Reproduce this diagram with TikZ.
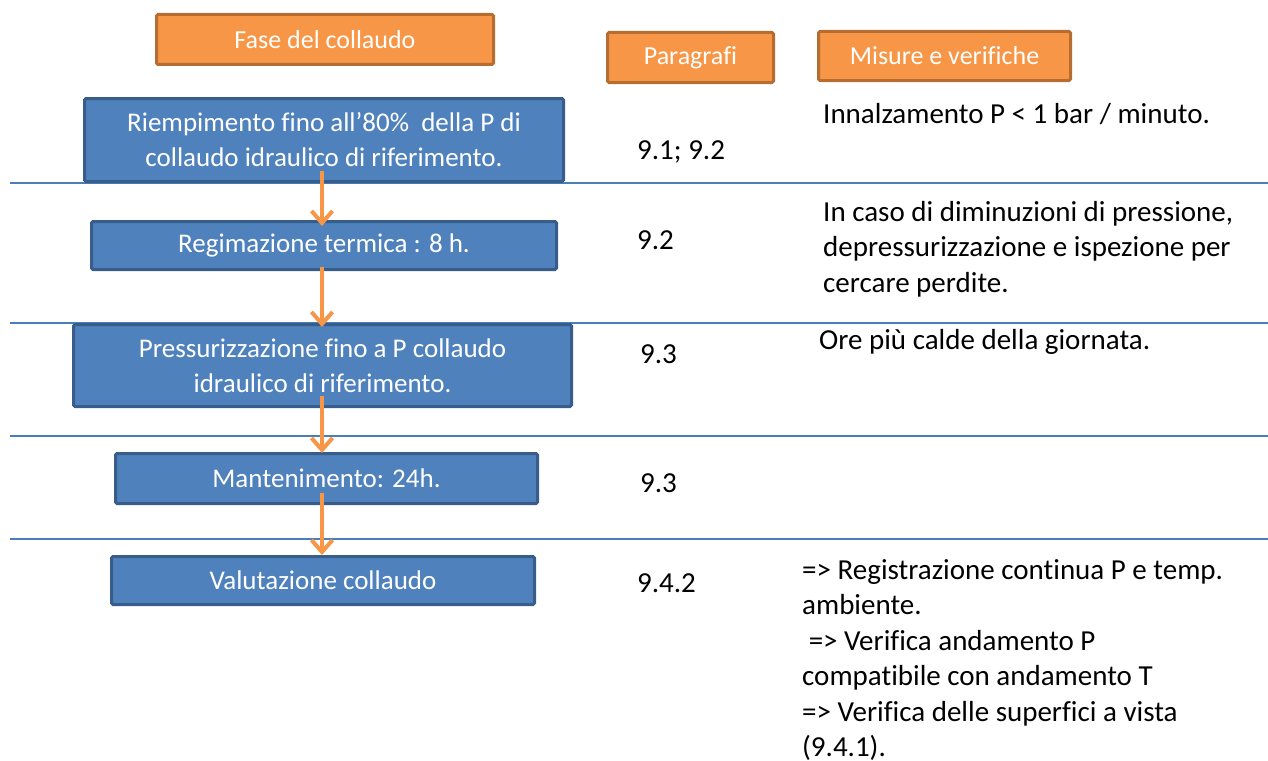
\documentclass[tikz,border=0pt]{standalone}
\usepackage{fontspec}
\setmainfont{Carlito}[Ligatures=NoCommon]
\usetikzlibrary{arrows.meta,calc}
\definecolor{boxblue}{HTML}{4F81BD}
\definecolor{boxblueline}{HTML}{385D8A}
\definecolor{hdrfill}{HTML}{F79646}
\definecolor{hdrline}{HTML}{B66D31}
\definecolor{sepblue}{HTML}{4A7EBB}
\definecolor{arrorange}{HTML}{F79646}
\begin{document}
\begin{tikzpicture}[x=1pt,y=-1pt,
 hdr/.style={draw=hdrline, fill=hdrfill, line width=3pt, rounded corners=1.5pt, text=white, font=\fontsize{26}{31}\selectfont, inner sep=0},
 stepbox/.style={draw=boxblueline, fill=boxblue, line width=3pt, rounded corners=1.5pt, text=white, font=\fontsize{27}{35}\selectfont, align=center, inner sep=0},
 sepline/.style={draw=sepblue, line width=2pt},
 txt/.style={font=\fontsize{29}{35.5}\selectfont, align=left, inner sep=0, anchor=north west},
 num/.style={font=\fontsize{29}{35}\selectfont, inner sep=0, anchor=west},
 arr/.style={draw=arrorange, line width=4pt, -{Straight Barb[length=12pt,width=21pt]}}]
\useasboundingbox (0,0) rectangle (1268,760);
% separator lines
\coordinate (l1a) at (10,183); \coordinate (l1b) at (1268,183);
\coordinate (l2a) at (10,323); \coordinate (l2b) at (1268,323);
\coordinate (l3a) at (10,436); \coordinate (l3b) at (1268,436);
\coordinate (l4a) at (10,539); \coordinate (l4b) at (1268,539);
\draw[sepline] (l1a) -- (l1b);
\draw[sepline] (l2a) -- (l2b);
\draw[sepline] (l3a) -- (l3b);
\draw[sepline] (l4a) -- (l4b);
% headers
\node[hdr, minimum width=337pt, minimum height=50pt] (h1) at (325,39.5) {Fase del collaudo};
\node[hdr, minimum width=166pt, minimum height=50pt] (h2) at (690.5,57.5) {Paragrafi};
\node[hdr, minimum width=252pt, minimum height=49pt] (h3) at (944.5,56) {Misure e verifiche};
% steps
\node[stepbox, minimum width=479pt, minimum height=83pt] (b1) at (324,140) {Riempimento fino all’80\%\ \ della P di\\collaudo idraulico di riferimento.};
\node[stepbox, minimum width=465pt, minimum height=48pt] (b2) at (324,245.5) {Regimazione termica : 8 h.};
\node[stepbox, minimum width=498pt, minimum height=82pt] (b3) at (322.5,365.5) {Pressurizzazione fino a P collaudo\\idraulico di riferimento.};
\node[stepbox, minimum width=422pt, minimum height=50pt] (b4) at (326.5,478.5) {Mantenimento: 24h.};
\node[stepbox, minimum width=423pt, minimum height=48pt] (b5) at (323,580.5) {Valutazione collaudo};
% arrows
\coordinate (ax) at (322,0);
\draw[arr] ($(ax |- b1.south)+(0,-12)$) -- ($(ax |- b2.north)+(0,6)$);
\draw[arr] ($(ax |- b2.south)+(0,-4)$) -- ($(ax |- b3.north)+(0,4)$);
\draw[arr] ($(ax |- b3.south)+(0,-12)$) -- ($(ax |- b4.north)+(0,1)$);
\draw[arr] ($(ax |- b4.south)+(0,-12)$) -- (ax |- b5.north);
% paragraph numbers
\node[num] (n1) at (637,152) {9.1; 9.2};
\node[num] (n2) at (637,240) {9.2};
\node[num] (n3) at (640,354) {9.3};
\node[num] (n4) at (640,483) {9.3};
\node[num] (n5) at (637,583) {9.4.2};
% measures
\node[txt] (m1) at (823,103) {Innalzamento P < 1 bar / minuto.};
\node[txt] (m2) at (823,201) {In caso di diminuzioni di pressione,\\depressurizzazione e ispezione per\\cercare perdite.};
\node[txt] (m3) at (819,329) {Ore più calde della giornata.};
\node[txt] (m5) at (802,559) {=> Registrazione continua P e temp.\\ambiente.\\\ => Verifica andamento P\\compatibile con andamento T\\=> Verifica delle superfici a vista\\(9.4.1).};
\end{tikzpicture}
\end{document}
